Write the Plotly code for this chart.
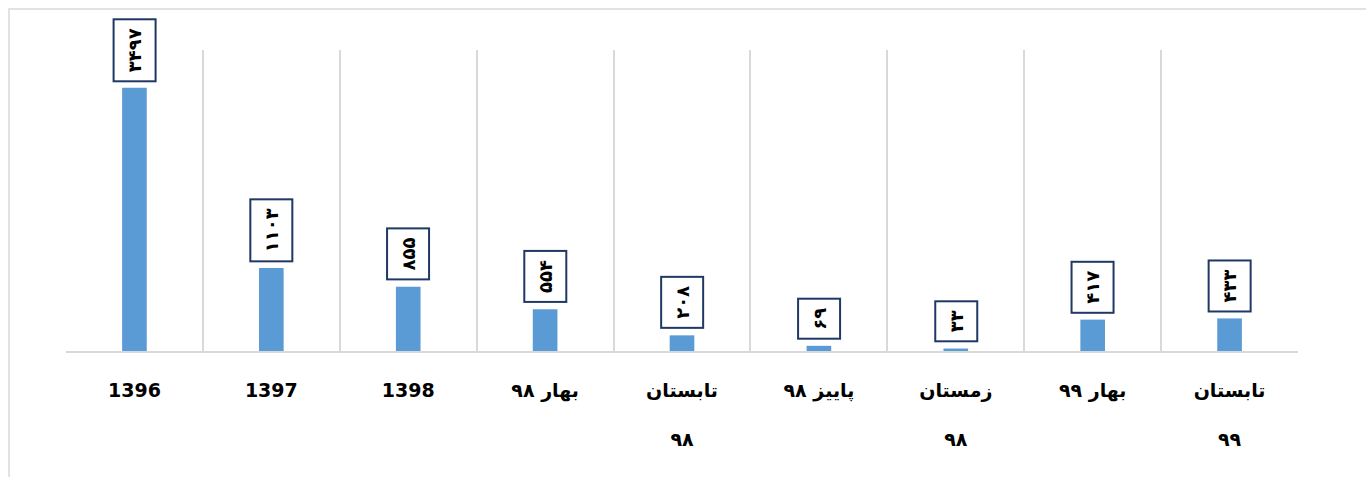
import plotly.graph_objects as go

categories = ["1396", "1397", "1398", "بهار ۹۸", "تابستان<br> <br>۹۸", "پاییز ۹۸",
              "زمستان<br> <br>۹۸", "بهار ۹۹", "تابستان<br> <br>۹۹"]
values = [3497, 1103, 855, 554, 208, 69, 33, 417, 433]

FA_DIGITS = str.maketrans("0123456789", "۰۱۲۳۴۵۶۷۸۹")

idx = list(range(len(categories)))
boundaries = [i - 0.5 for i in range(len(categories) + 1)]

fig = go.Figure()
fig.add_trace(go.Bar(
    x=idx, y=values, width=0.18,
    marker=dict(color="#5b9bd5", line=dict(width=0)),
    hoverinfo="skip",
))

for i, v in zip(idx, values):
    fig.add_annotation(
        x=i, y=v, xref="x", yref="y",
        text="<b>" + str(v).translate(FA_DIGITS) + "</b>",
        showarrow=False, textangle=-90,
        yanchor="bottom", yshift=6,
        height=24,
        font=dict(family="DejaVu Sans", size=18, color="#000000"),
        bgcolor="#ffffff", bordercolor="#1f3864", borderwidth=2, borderpad=8,
    )

# chart-area border (light gray)
fig.add_shape(type="rect", xref="paper", yref="paper",
              x0=(9 - 66) / 1232, x1=1.2, y0=-1.0, y1=(351 - 9) / 301,
              line=dict(color="#d9d9d9", width=1.5), fillcolor="rgba(0,0,0,0)", layer="below")

fig.update_layout(
    width=1366, height=477,
    margin=dict(l=66, r=68, t=50, b=126),
    paper_bgcolor="#ffffff", plot_bgcolor="#ffffff",
    showlegend=False,
    xaxis=dict(
        range=[-0.5, len(categories) - 0.5],
        tickmode="array", tickvals=idx, ticktext=categories,
        showgrid=False, zeroline=False,
        showline=True, linecolor="#d9d9d9", linewidth=2,
        ticks="", ticklabelstandoff=21,
        tickfont=dict(family="DejaVu Sans", size=19, color="#000000", weight="bold"),
        minor=dict(tickmode="array", tickvals=boundaries, showgrid=True,
                   gridcolor="#d9d9d9", gridwidth=1.5, ticks=""),
    ),
    yaxis=dict(range=[0, 4000], showgrid=False, zeroline=False,
               showticklabels=False, showline=False, ticks=""),
)

fig.write_html("out.html", config={"displayModeBar": False},
               post_script="document.body.style.margin='0';")
